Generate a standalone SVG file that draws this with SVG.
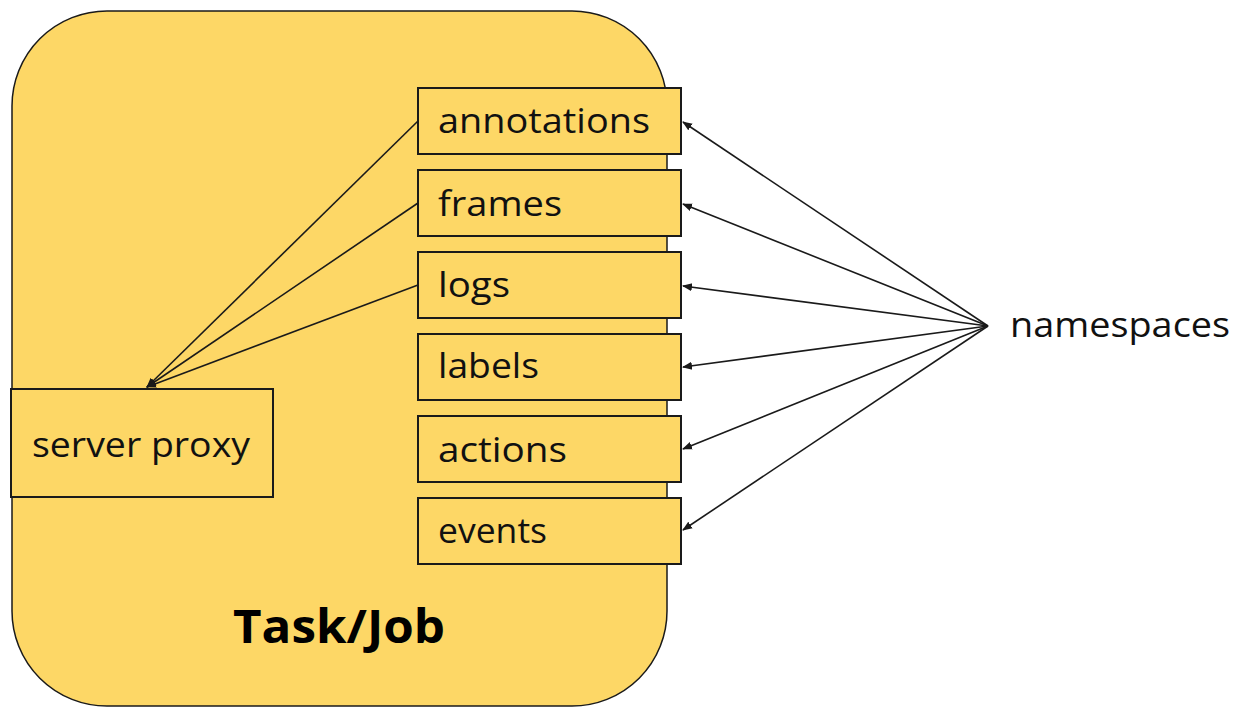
<svg xmlns="http://www.w3.org/2000/svg" width="1243" height="707" viewBox="0 0 1243 707">
<style>
.box{fill:#fdd766;stroke:#1a1a1a;stroke-width:2}
.outer{fill:#fdd766;stroke:#1a1a1a;stroke-width:1.5}
.lbl{font-family:"Open Sans","DejaVu Sans",sans-serif;font-size:35px;fill:#111}
.title{font-family:"Open Sans","DejaVu Sans",sans-serif;font-size:46px;font-weight:bold;fill:#000}
.conn{stroke:#1a1a1a;stroke-width:1.6;fill:none;marker-end:url(#ah)}
</style>
<defs>
<marker id="ah" viewBox="0 0 10 10" refX="9" refY="5" markerWidth="10" markerHeight="10" markerUnits="userSpaceOnUse" orient="auto">
<path d="M0,1 L10,5 L0,9 Z" fill="#1a1a1a"/>
</marker>
</defs>
<rect width="1243" height="707" fill="#ffffff"/>
<g id="taskjob">
<rect class="outer" x="12" y="11" width="655" height="695" rx="95" ry="95"/>
<text class="title" x="233" y="643" textLength="212" lengthAdjust="spacingAndGlyphs">Task/Job</text>
</g>
<g id="server-proxy">
<rect class="box" x="11" y="389" width="262" height="108"/>
<text class="lbl" x="32" y="457" textLength="218" lengthAdjust="spacingAndGlyphs">server proxy</text>
</g>
<g id="annotations">
<rect class="box" x="418" y="88" width="263" height="66"/>
<text class="lbl" x="438" y="133" textLength="212" lengthAdjust="spacingAndGlyphs">annotations</text>
</g>
<g id="frames">
<rect class="box" x="418" y="170" width="263" height="66"/>
<text class="lbl" x="438" y="216" textLength="124" lengthAdjust="spacingAndGlyphs">frames</text>
</g>
<g id="logs">
<rect class="box" x="418" y="252" width="263" height="66"/>
<text class="lbl" x="438" y="297" textLength="72" lengthAdjust="spacingAndGlyphs">logs</text>
</g>
<g id="labels">
<rect class="box" x="418" y="334" width="263" height="66"/>
<text class="lbl" x="438" y="378" textLength="101" lengthAdjust="spacingAndGlyphs">labels</text>
</g>
<g id="actions">
<rect class="box" x="418" y="416" width="263" height="66"/>
<text class="lbl" x="438" y="462" textLength="129" lengthAdjust="spacingAndGlyphs">actions</text>
</g>
<g id="events">
<rect class="box" x="418" y="498" width="263" height="66"/>
<text class="lbl" x="438" y="543" textLength="109" lengthAdjust="spacingAndGlyphs">events</text>
</g>
<g id="namespaces">
<text class="lbl" x="1010" y="337" textLength="220" lengthAdjust="spacingAndGlyphs">namespaces</text>
</g>
<g id="connectors">
<line class="conn" x1="418" y1="121" x2="147" y2="387"/>
<line class="conn" x1="418" y1="203" x2="147" y2="387"/>
<line class="conn" x1="418" y1="285" x2="147" y2="387"/>
<line class="conn" x1="988" y1="326" x2="683" y2="122"/>
<line class="conn" x1="988" y1="326" x2="683" y2="204"/>
<line class="conn" x1="988" y1="326" x2="683" y2="286"/>
<line class="conn" x1="988" y1="326" x2="683" y2="367"/>
<line class="conn" x1="988" y1="326" x2="683" y2="449"/>
<line class="conn" x1="988" y1="326" x2="683" y2="530"/>
</g>
</svg>
